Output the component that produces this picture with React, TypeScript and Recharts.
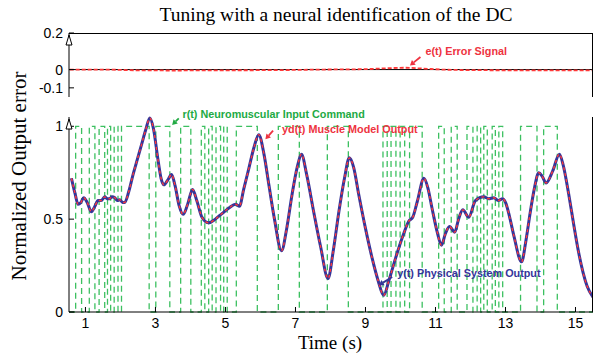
import { Line, LineChart, ReferenceDot, ReferenceLine, XAxis, YAxis } from "recharts";

const timeTicks = [1, 3, 5, 7, 9, 11, 13, 15];
const errTicks = [0.2, 0, -0.1];
const outTicks = [0, 0.5, 1];

// y(t) physical system output
const yTimes = [
  0.6, 0.7, 0.79, 0.87, 0.95, 1.05, 1.17, 1.27, 1.36, 1.45, 1.55, 1.62, 1.69, 1.76, 1.84, 1.91,
  1.98, 2.06, 2.12, 2.24, 2.36, 2.48, 2.6, 2.72, 2.84, 2.94, 3.08, 3.16, 3.24, 3.35, 3.46, 3.56,
  3.68, 3.79, 3.92, 4.06, 4.18, 4.33, 4.52, 4.71, 4.9, 5.1, 5.29, 5.4, 5.52, 5.67, 5.82, 5.95,
  6.1, 6.24, 6.4, 6.6, 6.75, 6.9, 7.05, 7.17, 7.32, 7.52, 7.72, 7.93, 8.08, 8.24, 8.4, 8.54,
  8.66, 8.81, 9.0, 9.19, 9.36, 9.52, 9.67, 9.86, 10.07, 10.24, 10.35, 10.48, 10.67, 10.78, 10.9,
  11.05, 11.17, 11.28, 11.4, 11.55, 11.66, 11.78, 11.95, 12.14, 12.38, 12.52, 12.67, 12.79,
  12.92, 13.0, 13.12, 13.24, 13.46, 13.58, 13.71, 13.83, 13.95, 14.05, 14.16, 14.35, 14.54,
  14.65, 14.81, 14.95, 15.09, 15.33, 15.5,
];
const yVals = [
  0.72, 0.64, 0.58, 0.59, 0.615, 0.59, 0.54, 0.57, 0.6, 0.6, 0.62, 0.61, 0.61, 0.62, 0.615, 0.6,
  0.605, 0.59, 0.59, 0.65, 0.74, 0.82, 0.9, 0.98, 1.045, 0.99, 0.81, 0.72, 0.685, 0.71, 0.74, 0.68,
  0.57, 0.526, 0.58, 0.66, 0.6, 0.51, 0.48, 0.5, 0.53, 0.56, 0.58, 0.57, 0.66, 0.775, 0.89, 0.955,
  0.85, 0.685, 0.5, 0.33, 0.45, 0.63, 0.78, 0.85, 0.74, 0.54, 0.35, 0.18, 0.33, 0.54, 0.72, 0.83,
  0.78, 0.63, 0.45, 0.29, 0.17, 0.09, 0.17, 0.29, 0.41, 0.49, 0.51, 0.595, 0.72, 0.67, 0.56,
  0.43, 0.36, 0.42, 0.46, 0.43, 0.5, 0.55, 0.51, 0.6, 0.62, 0.61, 0.615, 0.6,
  0.61, 0.59, 0.51, 0.41, 0.27, 0.38, 0.54, 0.67, 0.75, 0.73, 0.695, 0.76, 0.85,
  0.79, 0.63, 0.47, 0.32, 0.14, 0.08,
];
// yd(t) muscle model output (overlays y(t) within a pixel)
const ydVals = [
  0.72, 0.64, 0.58, 0.59, 0.615, 0.59, 0.54, 0.57, 0.6, 0.6, 0.62, 0.61, 0.61, 0.62, 0.615, 0.6,
  0.605, 0.59, 0.59, 0.65, 0.74, 0.82, 0.9, 0.98, 1.045, 0.99, 0.81, 0.72, 0.685, 0.71, 0.74, 0.68,
  0.57, 0.526, 0.58, 0.66, 0.6, 0.51, 0.48, 0.5, 0.53, 0.56, 0.58, 0.57, 0.66, 0.775, 0.89, 0.955,
  0.85, 0.685, 0.5, 0.33, 0.45, 0.63, 0.78, 0.85, 0.74, 0.54, 0.35, 0.18, 0.33, 0.54, 0.72, 0.83,
  0.78, 0.63, 0.45, 0.29, 0.17, 0.09, 0.17, 0.29, 0.41, 0.49, 0.51, 0.595, 0.72, 0.67, 0.56,
  0.43, 0.36, 0.42, 0.46, 0.43, 0.5, 0.55, 0.51, 0.6, 0.62, 0.61, 0.615, 0.6,
  0.61, 0.59, 0.51, 0.41, 0.27, 0.38, 0.54, 0.67, 0.75, 0.73, 0.695, 0.76, 0.85,
  0.79, 0.63, 0.47, 0.32, 0.14, 0.08,
];

// e(t) error signal
const eTimes = [0.55, 1.5, 2.5, 3.5, 5, 6.5, 7.7, 8.9, 9.6, 10.1, 10.6, 11.2, 12, 13.5, 15.5];
const eVals = [0, 0, -0.004, -0.005, -0.004, -0.003, 0, 0.002, 0.007, 0.01, 0.006, 0, -0.003, -0.004, -0.004];

// r(t) neuromuscular input command (level held until next time)
const rTimes = [
  0.53, 0.72, 0.89, 1.11, 1.27, 1.39, 1.55, 1.63, 1.72, 1.82, 1.93, 2.03, 2.82, 3.01, 3.41, 3.72,
  4.01, 4.31, 4.41, 4.52, 4.62, 4.73, 4.86, 4.95, 5.05, 5.31, 5.91, 6.51, 7.11, 7.91, 8.51, 9.5,
  9.62, 9.73, 9.87, 9.99, 10.12, 10.26, 10.62, 11.09, 11.25, 11.45, 11.62, 11.9, 12.07, 12.19,
  12.29, 12.38, 12.48, 12.62, 12.71, 12.81, 12.92, 13.43, 13.9, 14.09, 14.48, 15.5,
];
const rLevels = [
  0, 1, 0, 1, 0, 1, 0, 1, 0, 1, 0, 1, 0, 1, 0, 1,
  0, 1, 0, 1, 0, 1, 0, 1, 0, 1, 0, 1, 0, 1, 0, 1,
  0, 1, 0, 1, 0, 1, 0, 1, 0, 1, 0, 1, 0, 1,
  0, 1, 0, 1, 0, 1, 0, 1, 0, 1, 0, 0,
];

const outRows = yTimes.map((t, i) => ({ t, y: yVals[i], yd: ydVals[i] }));
const errRows = eTimes.map((t, i) => ({ t, e: eVals[i] }));
const cmdRows = rTimes.map((t, i) => ({ t, r: rLevels[i] }));

const X_DOMAIN: [number, number] = [0.53, 15.5];
const tickFont = { fill: "#000", fontSize: 14, fontFamily: "Liberation Sans, Arial, sans-serif" };
const axisStroke = { stroke: "#000", strokeWidth: 1 };

function Tri(props: any) {
  const { cx, cy } = props;
  if (cx == null || cy == null) return null;
  return (
    <polygon
      points={`${cx},${cy + 2} ${cx - 3},${cy + 12} ${cx + 3},${cy + 12}`}
      fill="#fff"
      stroke="#000"
      strokeWidth={1}
    />
  );
}

function makeNote(text: string, color: string, ax: number, ay: number, tx: number, ty: number) {
  return (props: any) => {
    const { cx, cy } = props;
    if (cx == null || cy == null) return null;
    const x0 = cx + ax;
    const y0 = cy + ay;
    const len = Math.hypot(ax, ay);
    const ux = -ax / len;
    const uy = -ay / len;
    const hx = cx - ux * 5;
    const hy = cy - uy * 5;
    const head = `${cx},${cy} ${hx - uy * 3},${hy + ux * 3} ${hx + uy * 3},${hy - ux * 3}`;
    return (
      <g>
        <line x1={x0} y1={y0} x2={hx} y2={hy} stroke={color} strokeWidth={1.8} />
        <polygon points={head} fill={color} />
        <text
          x={cx + tx}
          y={cy + ty}
          fill={color}
          fontSize={10.8}
          fontWeight="bold"
          fontFamily="Liberation Sans, Arial, sans-serif"
          dominantBaseline="middle"
        >
          {text}
        </text>
      </g>
    );
  };
}

const noteE = makeNote("e(t) Error Signal", "#ee3340", 10.5, -8.5, 15.5, -13);
const noteR = makeNote("r(t) Neuromuscular Input Command", "#22aa44", 6.6, -6.7, 10.3, -10);
const noteYd = makeNote("yd(t) Muscle Model Output", "#ee3340", 7.7, -8.6, 16.7, -9.3);
const noteY = makeNote("y(t) Physical System Output", "#35359a", 13.4, -8.3, 18.4, -11.6);

// frame edges that MATLAB draws around the panels
const frame = (left: number, top: number, w: number, h: number) => (
  <div style={{ position: "absolute", left, top, width: w, height: h, background: "#000" }} />
);

export default function App() {
  return (
    <div style={{ position: "absolute", left: 0, top: 0, width: 598, height: 356, background: "#fff" }}>
      <div style={{ position: "absolute", left: 0, top: 100 }}>
        <LineChart width={598} height={256} margin={{ top: 17, right: 0, bottom: 0, left: 0 }}>
          <XAxis
            type="number"
            dataKey="t"
            domain={X_DOMAIN}
            ticks={timeTicks}
            interval={0}
            allowDataOverflow
            height={44}
            tickSize={-5}
            tickMargin={11}
            tick={tickFont}
            axisLine={axisStroke}
            tickLine={axisStroke}
          />
          <YAxis
            yAxisId="l"
            type="number"
            domain={[0, 1.05]}
            ticks={outTicks}
            interval={0}
            width={69}
            tickSize={-5}
            tickMargin={11}
            tick={tickFont}
            axisLine={axisStroke}
            tickLine={axisStroke}
          />
          <YAxis yAxisId="r" orientation="right" type="number" domain={[0, 1.05]} width={5} tick={false} axisLine={false} />
          <Line
            yAxisId="l"
            data={cmdRows}
            dataKey="r"
            type="stepAfter"
            stroke="#3cc060"
            strokeWidth={1.3}
            strokeDasharray="6 4"
            dot={false}
            isAnimationActive={false}
          />
          <Line
            yAxisId="l"
            data={outRows}
            dataKey="y"
            type="monotone"
            stroke="#35359a"
            strokeWidth={3}
            dot={false}
            isAnimationActive={false}
          />
          <Line
            yAxisId="l"
            data={outRows}
            dataKey="yd"
            type="monotone"
            stroke="#ff3838"
            strokeWidth={1.4}
            strokeDasharray="3 3"
            dot={false}
            isAnimationActive={false}
          />
          <ReferenceDot yAxisId="l" x={0.53} y={1.05} r={0} shape={Tri} />
          <ReferenceDot yAxisId="l" x={3.477} y={1.007} r={0} shape={noteR} />
          <ReferenceDot yAxisId="l" x={6.14} y={0.93} r={0} shape={noteYd} />
          <ReferenceDot yAxisId="l" x={9.38} y={0.144} r={0} shape={noteY} />
        </LineChart>
      </div>

      <div style={{ position: "absolute", left: 0, top: 0 }}>
        <LineChart width={598} height={110} margin={{ top: 33, right: 0, bottom: 13, left: 0 }}>
          <XAxis type="number" dataKey="t" domain={X_DOMAIN} allowDataOverflow hide />
          <YAxis
            yAxisId="l"
            type="number"
            domain={[-0.15, 0.2]}
            ticks={errTicks}
            interval={0}
            width={69}
            tickSize={-5}
            tickMargin={11}
            tick={tickFont}
            axisLine={axisStroke}
            tickLine={axisStroke}
          />
          <YAxis yAxisId="r" orientation="right" type="number" domain={[-0.15, 0.2]} width={5} tick={false} axisLine={false} />
          <ReferenceLine yAxisId="l" y={0} stroke="#000" strokeWidth={1} />
          <Line
            yAxisId="l"
            data={errRows}
            dataKey="e"
            type="monotone"
            stroke="#ff3838"
            strokeWidth={1.8}
            strokeDasharray="4 2"
            dot={false}
            isAnimationActive={false}
          />
          <ReferenceDot yAxisId="l" x={0.53} y={0.2} r={0} shape={Tri} />
          <ReferenceDot yAxisId="l" x={10.27} y={0.022} r={0} shape={noteE} />
        </LineChart>
      </div>

      {frame(69, 33, 524, 1)}
      {frame(592, 33, 1, 64)}
      {frame(592, 117, 1, 195)}

      <div
        style={{
          position: "absolute",
          left: 36,
          top: 4,
          width: 600,
          textAlign: "center",
          fontFamily: "Liberation Serif, Times New Roman, serif",
          fontSize: 19.5,
          lineHeight: "22px",
        }}
      >
        Tuning with a neural identification of the DC
      </div>
      <div
        style={{
          position: "absolute",
          left: 19 - 150,
          top: 176 - 12,
          width: 300,
          height: 24,
          lineHeight: "24px",
          textAlign: "center",
          transform: "rotate(-90deg)",
          fontFamily: "Liberation Serif, Times New Roman, serif",
          fontSize: 21,
        }}
      >
        Normalized Output error
      </div>
      <div
        style={{
          position: "absolute",
          left: 30,
          top: 332,
          width: 600,
          textAlign: "center",
          fontFamily: "Liberation Serif, Times New Roman, serif",
          fontSize: 19,
          lineHeight: "22px",
        }}
      >
        Time (s)
      </div>
    </div>
  );
}
